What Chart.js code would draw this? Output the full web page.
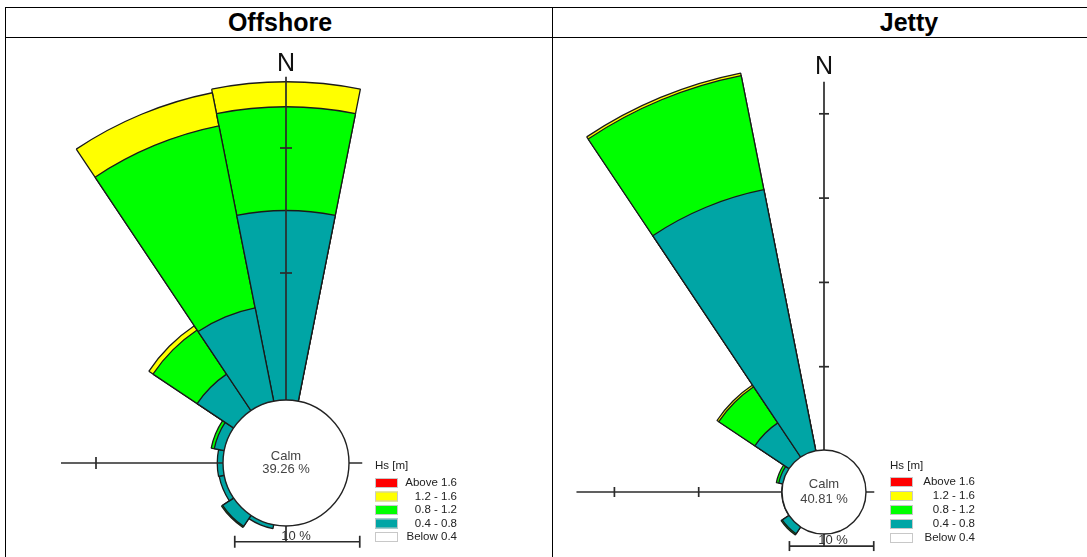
<!DOCTYPE html>
<html>
<head>
<meta charset="utf-8">
<title>Wave roses – Offshore and Jetty</title>
<script src="https://cdn.jsdelivr.net/npm/chart.js@4.4.1/dist/chart.umd.min.js"></script>
<style>
  html, body { margin: 0; padding: 0; background: #fff; }
  #page { position: relative; width: 1087px; height: 557px; overflow: hidden; background: #fff;
          font-family: 'Liberation Sans', Arial, sans-serif; }
  .h { position: absolute; height: 1px; background: #000; }
  .v { position: absolute; width: 1px; background: #000; }
  .title { position: absolute; top: 8px; height: 29px; line-height: 29px; font-weight: bold; font-size: 25px;
           transform: translateX(-50%); white-space: nowrap; color: #000; }
  .panel { position: absolute; overflow: hidden; }
  .panel canvas { position: absolute; }
</style>
</head>
<body>
<div id="page">
  <div class="h" style="left:5px;top:7px;width:1082px"></div>
  <div class="h" style="left:5px;top:37px;width:1082px"></div>
  <div class="v" style="left:5px;top:7px;height:550px"></div>
  <div class="v" style="left:552px;top:7px;height:550px"></div>
  <div class="title" style="left:280px">Offshore</div>
  <div class="title" style="left:909px">Jetty</div>
  <div class="panel" style="left:6px;top:38px;width:546px;height:519px">
    <canvas id="offshore" width="840" height="840" style="left:-140px;top:5px"></canvas>
  </div>
  <div class="panel" style="left:553px;top:38px;width:534px;height:519px">
    <canvas id="jetty" width="880" height="880" style="left:-169px;top:14px"></canvas>
  </div>
</div>
<script>
// 16 compass sectors, clockwise from north
const directions = ['N', 'NNE', 'NE', 'ENE', 'E', 'ESE', 'SE', 'SSE',
                    'S', 'SSW', 'SW', 'WSW', 'W', 'WNW', 'NW', 'NNW'];

// Hs classes, as listed in the legend (top to bottom)
const bandLabels = ['Above 1.6', '1.2 - 1.6', '0.8 - 1.2', '0.4 - 0.8', 'Below 0.4'];
const bandColors = ['#ff0000', '#ffff00', '#00ff00', '#00a5a5', '#ffffff'];

// Offshore: occurrence (%) per direction for each Hs class
const offshoreCalm = 39.26;
const offshoreBelow04 = [0, 0, 0, 0, 0, 0, 0, 0, 0, 0, 0, 0, 0, 0, 0, 0];
const offshore04to08  = [15.0, 0, 0, 0, 0, 0, 0, 0, 0, 0.15, 0.9, 0.25, 0.3, 0.65, 3.35, 7.45];
const offshore08to12  = [8.3, 0, 0, 0, 0, 0, 0, 0, 0, 0, 0.1, 0, 0, 0.25, 4.25, 14.85];
const offshore12to16  = [2.0, 0, 0, 0, 0, 0, 0, 0, 0, 0, 0, 0, 0, 0, 0.4, 2.7];
const offshoreAbove16 = [0, 0, 0, 0, 0, 0, 0, 0, 0, 0, 0, 0, 0, 0, 0, 0];

// Jetty: occurrence (%) per direction for each Hs class
const jettyCalm = 40.81;
const jettyBelow04 = [0, 0, 0, 0, 0, 0, 0, 0, 0, 0, 0, 0, 0, 0, 0, 0];
const jetty04to08  = [0, 0, 0, 0, 0, 0, 0, 0, 0, 0, 1.1, 0.15, 0.15, 0.6, 5.0, 31.7];
const jetty08to12  = [0, 0, 0, 0, 0, 0, 0, 0, 0, 0, 0.15, 0, 0, 0.3, 5.15, 13.8];
const jetty12to16  = [0, 0, 0, 0, 0, 0, 0, 0, 0, 0, 0, 0, 0, 0, 0.25, 0.3];
const jettyAbove16 = [0, 0, 0, 0, 0, 0, 0, 0, 0, 0, 0, 0, 0, 0, 0, 0];

// Axis marks (in %)
const offshoreNorthTicks = [10, 20];
const offshoreWestTicks  = [10];
const jettyNorthTicks = [10, 20, 30, 40];
const jettyWestTicks  = [10, 20];
const scaleBarPercent = 10;

// running totals from the lowest class outwards, so each ring sits on the previous one
function cumulative(bands) {
  const out = [];
  let run = new Array(directions.length).fill(0);
  bands.forEach(b => {
    run = run.map((v, i) => v + b[i]);
    out.push(run.slice());
  });
  return out;
}

// axes, calm disc, labels, scale bar and legend drawn on top of the sectors
function roseOverlay(calm, L) {
  return {
    id: 'roseOverlay',
    afterDatasetsDraw(chart) {
      const r = chart.scales.r;
      const ctx = chart.ctx;
      const cx = r.xCenter, cy = r.yCenter;
      const d = v => r.getDistanceFromCenterForValue(v);
      const seg = (x1, y1, x2, y2) => { ctx.beginPath(); ctx.moveTo(x1, y1); ctx.lineTo(x2, y2); ctx.stroke(); };
      ctx.save();
      ctx.lineCap = 'butt';
      ctx.strokeStyle = '#2b2b2b';
      ctx.lineWidth = 1.7;

      // compass axes
      seg(cx, cy, cx, cy - d(L.northEnd));
      seg(cx, cy, cx - d(L.westEnd), cy);
      seg(cx, cy, cx + d(L.eastEnd), cy);
      const barY = cy + d(L.southEnd);
      seg(cx, cy, cx, barY);
      L.northTicks.forEach(v => seg(cx - L.tick, cy - d(v), cx + L.tick, cy - d(v)));
      L.westTicks.forEach(v => seg(cx - d(v), cy - L.tick, cx - d(v), cy + L.tick));

      // calm disc
      ctx.beginPath();
      ctx.arc(cx, cy, L.calmRadius, 0, Math.PI * 2);
      ctx.fillStyle = '#ffffff';
      ctx.fill();
      ctx.lineWidth = 1.4;
      ctx.strokeStyle = '#222';
      ctx.stroke();
      ctx.fillStyle = '#444';
      ctx.font = "13px 'Liberation Sans', Arial, sans-serif";
      ctx.textAlign = 'center';
      ctx.textBaseline = 'middle';
      ctx.fillText('Calm', cx, cy - L.calmGap);
      ctx.fillText(calm.toFixed(2) + ' %', cx, cy + L.calmGap);

      // north label
      ctx.fillStyle = '#111';
      ctx.font = "25px 'Liberation Sans', Arial, sans-serif";
      ctx.fillText('N', cx, cy - L.northLabel);

      // scale bar
      const len = d(scaleBarPercent) - d(0);
      const x0 = cx - 0.41 * len, x1 = x0 + len;
      ctx.strokeStyle = '#2b2b2b';
      ctx.lineWidth = 1.7;
      seg(x0, barY, x1, barY);
      seg(x0, barY - L.tick, x0, barY + L.tick);
      seg(x1, barY - L.tick, x1, barY + L.tick);
      ctx.fillStyle = '#333';
      ctx.font = "13px 'Liberation Sans', Arial, sans-serif";
      ctx.textBaseline = 'alphabetic';
      ctx.fillText(scaleBarPercent + ' %', cx + L.barTextDx, barY - 2);

      // legend
      const lx = cx + L.legendX;
      ctx.textAlign = 'left';
      ctx.textBaseline = 'middle';
      ctx.fillStyle = '#222';
      ctx.font = "11.5px 'Liberation Sans', Arial, sans-serif";
      ctx.fillText('Hs [m]', lx, cy + L.legendTitleY);
      bandLabels.forEach((lab, i) => {
        const y = cy + L.legendRow0 + i * L.legendStep;
        ctx.fillStyle = bandColors[i];
        ctx.fillRect(lx, y - L.boxH / 2, L.boxW, L.boxH);
        ctx.lineWidth = 1;
        ctx.strokeStyle = '#c8c8c8';
        ctx.strokeRect(lx + 0.5, y - L.boxH / 2 + 0.5, L.boxW - 1, L.boxH - 1);
        ctx.fillStyle = '#222';
        ctx.textAlign = 'right';
        ctx.fillText(lab, lx + L.labelRight, y);
      });
      ctx.restore();
    }
  };
}

function roseChart(canvasId, bands, calm, L) {
  // bands: from the lowest Hs class to the highest
  const classColors = ['#ffffff', '#00a5a5', '#00ff00', '#ffff00', '#ff0000'];
  const classNames = ['Below 0.4', '0.4 - 0.8', '0.8 - 1.2', '1.2 - 1.6', 'Above 1.6'];
  const cum = cumulative(bands);
  const datasets = bands.map((band, j) => ({
    label: classNames[j],
    data: cum[j],
    backgroundColor: c => band[c.dataIndex] > 0 ? classColors[j] : 'rgba(0,0,0,0)',
    borderColor: '#1a1a1a',
    borderWidth: c => band[c.dataIndex] > 0 ? 1.3 : 0
  }));
  const canvas = document.getElementById(canvasId);
  const R = canvas.width / 2;
  const min = -L.baseRadius / L.pxPerPercent;
  const max = R / L.pxPerPercent + min;
  return new Chart(canvas, {
    type: 'polarArea',
    data: { labels: directions, datasets },
    options: {
      responsive: false,
      animation: false,
      events: [],
      layout: { padding: 0 },
      plugins: { legend: { display: false }, tooltip: { enabled: false } },
      scales: {
        r: {
          min, max,
          startAngle: -11.25,
          grid: { display: false },
          angleLines: { display: false },
          ticks: { display: false },
          pointLabels: { display: false }
        }
      }
    },
    plugins: [roseOverlay(calm, L)]
  });
}

Chart.defaults.font.family = "'Liberation Sans', Arial, sans-serif";

roseChart('offshore',
  [offshoreBelow04, offshore04to08, offshore08to12, offshore12to16, offshoreAbove16],
  offshoreCalm,
  {
    pxPerPercent: 12.5, baseRadius: 65, calmRadius: 63, calmGap: 6.5,
    northEnd: 25.7, westEnd: 12.8, eastEnd: 0.9, southEnd: 1.1,
    northTicks: offshoreNorthTicks, westTicks: offshoreWestTicks, tick: 6,
    northLabel: 399, barTextDx: 10,
    legendX: 89, legendTitleY: 3, legendRow0: 20, legendStep: 13.5, boxW: 23, boxH: 10, labelRight: 82
  });

roseChart('jetty',
  [jettyBelow04, jetty04to08, jetty08to12, jetty12to16, jettyAbove16],
  jettyCalm,
  {
    pxPerPercent: 8.43, baseRadius: 41, calmRadius: 42, calmGap: 7.5,
    northEnd: 43.8, westEnd: 24.5, eastEnd: 1.1, southEnd: 1.55,
    northTicks: jettyNorthTicks, westTicks: jettyWestTicks, tick: 5,
    northLabel: 425, barTextDx: 9,
    legendX: 66, legendTitleY: -26, legendRow0: -10, legendStep: 14, boxW: 23, boxH: 10, labelRight: 85
  });
</script>
</body>
</html>
